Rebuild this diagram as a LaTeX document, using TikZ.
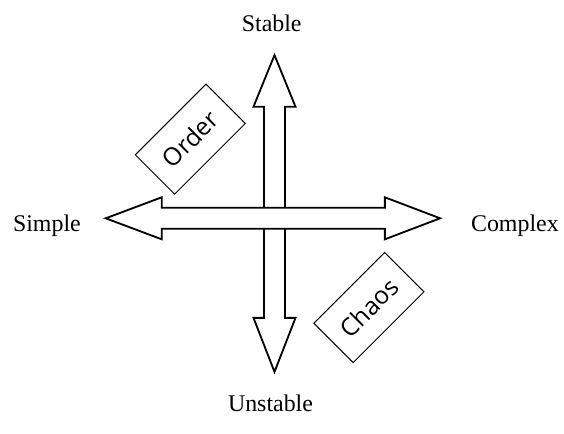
\documentclass[tikz,border=0pt]{standalone}
\usepackage{fontspec}
\setmainfont{Liberation Serif}
\newfontfamily\tagfont{Open Sans}
\usepackage{tikz}

\begin{document}
\begin{tikzpicture}[
  axislabel/.style={font=\fontsize{17}{20}\selectfont,anchor=base},
  regime/.style={draw,line width=0.7pt,rotate=45,font=\tagfont\fontsize{17.5}{20}\selectfont,
    minimum width=2.5cm,minimum height=1.39cm,inner sep=0pt},
  blockarrow/.style={draw,line width=1.3pt,fill=white,line join=miter}
]
  \useasboundingbox (-6.8625,-5.3925) rectangle (7.2375,5.4575);

  % stable / unstable axis
  \draw[blockarrow] (0,4.08) -- (0.525,2.79) -- (0.2625,2.79) -- (0.2625,-2.49)
    -- (0.525,-2.49) -- (0,-3.84) -- (-0.525,-2.49) -- (-0.2625,-2.49)
    -- (-0.2625,2.79) -- (-0.525,2.79) -- cycle;
  % simple / complex axis
  \draw[blockarrow] (-4.22,0) -- (-2.82,0.525) -- (-2.82,0.2625) -- (2.76,0.2625)
    -- (2.76,0.525) -- (4.14,0) -- (2.76,-0.525) -- (2.76,-0.2625)
    -- (-2.82,-0.2625) -- (-2.82,-0.525) -- cycle;

  \node[axislabel] (stable) at (-0.07,4.665) {Stable};
  \node[axislabel] (unstable) at (-0.1,-4.82) {Unstable};
  \node[axislabel] (simple) at (-5.69,-0.34) {Simple};
  \node[axislabel] (complex) at (6.01,-0.34) {Complex};

  \node[regime] (order) at (-2.105,1.98) {Order};
  \node[regime] (chaos) at (2.36,-2.23) {Chaos};
\end{tikzpicture}
\end{document}
